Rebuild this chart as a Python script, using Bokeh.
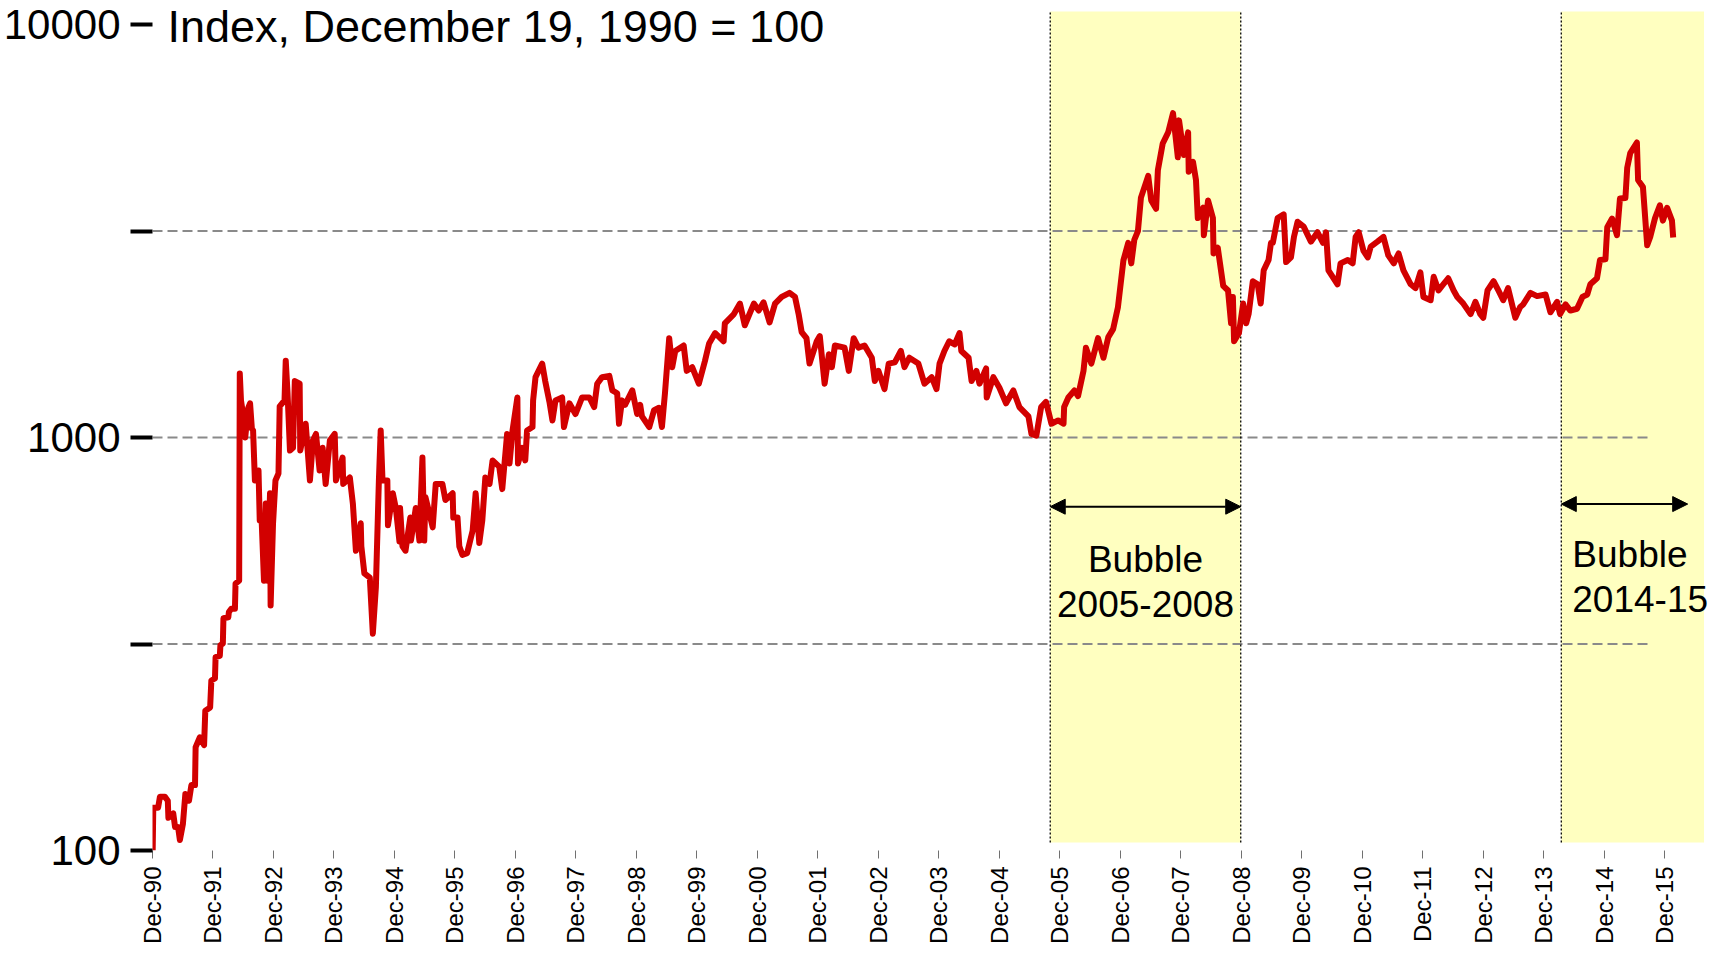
import math
from bokeh.plotting import figure
from bokeh.models import (FixedTicker, Range1d, Label, Arrow, NormalHead, ColumnDataSource,
                          PrintfTickFormatter)
from bokeh.embed import file_html
from bokeh.resources import INLINE

START = 1990.967  # December 19, 1990 (index base date)

# decimal year of each observation
years = [
    1990.97, 1990.98, 1991.06, 1991.09, 1991.17, 1991.22, 1991.23, 1991.31, 1991.34, 1991.39,
    1991.42, 1991.47, 1991.51, 1991.57, 1991.61, 1991.67, 1991.68, 1991.75, 1991.82, 1991.84,
    1991.92, 1991.94, 1992.00, 1992.01, 1992.08, 1992.09, 1992.13, 1992.14, 1992.22, 1992.23,
    1992.27, 1992.33, 1992.34, 1992.40, 1992.41, 1992.43, 1992.46, 1992.50, 1992.55, 1992.58,
    1992.61, 1992.63, 1992.66, 1992.71, 1992.72, 1992.74, 1992.77, 1992.81, 1992.84, 1992.87,
    1992.91, 1992.92, 1992.96, 1993.00, 1993.05, 1993.07, 1993.15, 1993.17, 1993.20, 1993.24,
    1993.29, 1993.32, 1993.40, 1993.41, 1993.50, 1993.57, 1993.62, 1993.67, 1993.73, 1993.78,
    1993.83, 1993.90, 1993.98, 1994.00, 1994.11, 1994.12, 1994.23, 1994.28, 1994.33, 1994.41,
    1994.42, 1994.47, 1994.56, 1994.61, 1994.66, 1994.71, 1994.74, 1994.77, 1994.85, 1994.86,
    1994.94, 1994.99, 1995.05, 1995.06, 1995.10, 1995.15, 1995.23, 1995.24, 1995.32, 1995.38,
    1995.43, 1995.46, 1995.48, 1995.60, 1995.65, 1995.76, 1995.81, 1995.93, 1995.94, 1996.01,
    1996.04, 1996.09, 1996.17, 1996.26, 1996.31, 1996.37, 1996.42, 1996.47, 1996.54, 1996.59,
    1996.70, 1996.75, 1996.83, 1996.87, 1996.92, 1997.00, 1997.01, 1997.08, 1997.13, 1997.16,
    1997.25, 1997.26, 1997.30, 1997.41, 1997.46, 1997.53, 1997.58, 1997.63, 1997.74, 1997.77,
    1997.86, 1997.96, 1998.07, 1998.19, 1998.27, 1998.32, 1998.40, 1998.52, 1998.57, 1998.65,
    1998.68, 1998.73, 1998.78, 1998.90, 1998.98, 1999.03, 1999.06, 1999.18, 1999.26, 1999.34,
    1999.39, 1999.44, 1999.51, 1999.56, 1999.61, 1999.75, 1999.80, 1999.89, 2000.00, 2000.10,
    2000.17, 2000.27, 2000.41, 2000.43, 2000.58, 2000.68, 2000.76, 2000.91, 2000.99, 2001.07,
    2001.17, 2001.26, 2001.37, 2001.50, 2001.59, 2001.65, 2001.70, 2001.78, 2001.83, 2001.95,
    2002.00, 2002.08, 2002.15, 2002.20, 2002.25, 2002.41, 2002.48, 2002.56, 2002.64, 2002.74,
    2002.86, 2002.91, 2002.97, 2003.07, 2003.14, 2003.24, 2003.34, 2003.40, 2003.48, 2003.63,
    2003.73, 2003.85, 2003.93, 2003.98, 2004.06, 2004.14, 2004.23, 2004.31, 2004.34, 2004.46,
    2004.51, 2004.59, 2004.64, 2004.75, 2004.76, 2004.87, 2004.97, 2005.08, 2005.20, 2005.30,
    2005.45, 2005.50, 2005.58, 2005.66, 2005.74, 2005.83, 2005.94, 2006.03, 2006.04, 2006.11,
    2006.21, 2006.27, 2006.36, 2006.40, 2006.49, 2006.60, 2006.69, 2006.77, 2006.85, 2006.93,
    2007.02, 2007.10, 2007.15, 2007.20, 2007.26, 2007.31, 2007.43, 2007.48, 2007.56, 2007.59,
    2007.67, 2007.76, 2007.84, 2007.92, 2007.94, 2008.02, 2008.09, 2008.10, 2008.17, 2008.22,
    2008.25, 2008.34, 2008.35, 2008.42, 2008.50, 2008.51, 2008.58, 2008.67, 2008.75, 2008.80,
    2008.83, 2008.85, 2008.93, 2009.00, 2009.05, 2009.09, 2009.16, 2009.24, 2009.29, 2009.34,
    2009.42, 2009.46, 2009.49, 2009.57, 2009.67, 2009.71, 2009.79, 2009.84, 2009.90, 2010.00,
    2010.12, 2010.23, 2010.32, 2010.37, 2010.41, 2010.56, 2010.61, 2010.73, 2010.81, 2010.86,
    2010.91, 2010.99, 2011.06, 2011.11, 2011.22, 2011.32, 2011.40, 2011.49, 2011.57, 2011.65,
    2011.77, 2011.85, 2011.93, 2011.98, 2012.10, 2012.15, 2012.23, 2012.31, 2012.39, 2012.48,
    2012.54, 2012.64, 2012.76, 2012.84, 2012.92, 2012.97, 2013.04, 2013.14, 2013.22, 2013.30,
    2013.38, 2013.50, 2013.58, 2013.63, 2013.75, 2013.86, 2014.00, 2014.08, 2014.19, 2014.24,
    2014.33, 2014.41, 2014.52, 2014.61, 2014.69, 2014.74, 2014.85, 2014.90, 2014.99, 2015.02,
    2015.10, 2015.18, 2015.23, 2015.32, 2015.35, 2015.40, 2015.51, 2015.53, 2015.61, 2015.68,
    2015.73, 2015.81, 2015.89, 2015.94, 2016.01, 2016.09, 2016.11,
]

# index level, December 19, 1990 = 100
index_values = [
    100, 127, 127, 135, 135, 132, 120, 123, 114, 114,
    106, 116, 137, 132, 144, 144, 178, 188, 180, 218,
    222, 258, 261, 294, 296, 314, 317, 365, 367, 378,
    385, 385, 443, 450, 1429, 1230, 1150, 1000, 1180, 1210,
    1050, 1040, 787, 790, 832, 630, 640, 450, 692, 450,
    733, 392, 620, 787, 818, 1190, 1230, 1535, 1280, 930,
    944, 1370, 1350, 930, 1080, 787, 985, 1020, 832, 944,
    772, 985, 1020, 787, 894, 772, 800, 692, 532, 620,
    545, 469, 458, 335, 433, 787, 1040, 787, 787, 613,
    733, 675, 560, 675, 545, 532, 640, 563, 675, 563,
    894, 563, 717, 606, 772, 772, 706, 733, 640, 640,
    545, 520, 525, 595, 733, 555, 630, 800, 772, 880,
    850, 750, 1020, 865, 1040, 1250, 865, 944, 880, 1040,
    1060, 1230, 1400, 1510, 1370, 1220, 1100, 1230, 1250, 1060,
    1210, 1140, 1250, 1250, 1185, 1350, 1400, 1410, 1300, 1280,
    1080, 1230, 1200, 1300, 1140, 1200, 1125, 1060, 1165, 1180,
    1060, 1280, 1740, 1480, 1620, 1670, 1450, 1480, 1350, 1530,
    1690, 1790, 1710, 1890, 1990, 2110, 1870, 2110, 2030, 2125,
    1900, 2110, 2190, 2240, 2190, 1990, 1800, 1740, 1510, 1710,
    1760, 1350, 1590, 1480, 1670, 1650, 1450, 1740, 1650, 1670,
    1560, 1370, 1450, 1310, 1510, 1520, 1620, 1480, 1560, 1510,
    1350, 1400, 1310, 1510, 1620, 1710, 1680, 1790, 1620, 1560,
    1370, 1450, 1350, 1470, 1250, 1400, 1320, 1210, 1300, 1185,
    1125, 1020, 1010, 1185, 1220, 1080, 1100, 1080, 1185, 1250,
    1300, 1260, 1450, 1650, 1510, 1740, 1560, 1750, 1830, 2070,
    2685, 2960, 2640, 3010, 3160, 3810, 4300, 3750, 3580, 4440,
    5150, 5480, 6100, 4770, 5860, 4830, 5480, 4400, 4650, 4200,
    3400, 3600, 3090, 3750, 3400, 2790, 2880, 2330, 2270, 1890,
    2190, 1710, 1790, 2110, 1890, 1990, 2390, 2350, 2110, 2540,
    2690, 2960, 2960, 3400, 3470, 2660, 2730, 3060, 3330, 3240,
    2980, 3140, 2960, 3140, 2540, 2350, 2640, 2690, 2640, 3060,
    3140, 2830, 2730, 2900, 2980, 3060, 2760, 2640, 2790, 2540,
    2350, 2300, 2510, 2190, 2150, 2450, 2270, 2350, 2430, 2270,
    2190, 2110, 1990, 2130, 1990, 1950, 2270, 2390, 2270, 2150,
    2300, 1950, 2070, 2100, 2240, 2200, 2220, 2010, 2130, 1990,
    2100, 2030, 2050, 2190, 2220, 2350, 2430, 2690, 2700, 3230,
    3390, 3090, 3790, 3800, 4500, 4880, 5180, 4200, 4040, 2920,
    3060, 3400, 3650, 3350, 3600, 3350, 3050,
]

tick_labels = ["Dec-90", "Dec-91", "Dec-92", "Dec-93", "Dec-94", "Dec-95", "Dec-96",
               "Dec-97", "Dec-98", "Dec-99", "Dec-00", "Dec-01", "Dec-02", "Dec-03",
               "Dec-04", "Dec-05", "Dec-06", "Dec-07", "Dec-08", "Dec-09", "Dec-10",
               "Dec-11", "Dec-12", "Dec-13", "Dec-14", "Dec-15"]
y_labeled_ticks = [100, 1000, 10000]
y_unlabeled_ticks = [316.23, 3162.3]
grid_levels = [316.23, 1000, 3162.3]
grid_end_year = 2015.69
title_text = "Index, December 19, 1990 = 100"
bubble_start = [2005.81, 2014.26]
bubble_end = [2008.96, 2016.62]
arrow_end = [2008.96, 2016.35]
arrow_level = [680, 690]
bubble_line1 = ["Bubble", "Bubble"]
bubble_line2 = ["2005-2008", "2014-15"]

FONT = "Liberation Sans"
RED = "#d20000"

t = [y - START for y in years]

W, H = 1710, 947
p = figure(width=W, height=H, y_axis_type="log", title=None,
           x_range=Range1d(0, 25.76), y_range=Range1d(100, 11433),
           output_backend="svg", toolbar_location=None,
           min_border_left=149, min_border_right=0, min_border_top=0, min_border_bottom=97)
p.outline_line_color = None
p.xgrid.visible = False
p.ygrid.visible = False
p.background_fill_color = "white"

# bubble bands
band_src = ColumnDataSource(dict(left=[b - START for b in bubble_start],
                                 right=[b - START for b in bubble_end],
                                 bottom=[104.6, 104.6], top=[10750, 10750]))
p.quad(left="left", right="right", bottom="bottom", top="top", source=band_src,
       fill_color="#ffffc0", line_color=None)

# dashed grid lines
for g in grid_levels:
    p.segment(x0=[0], x1=[grid_end_year - START], y0=[g], y1=[g],
              line_color="#8a8a8a", line_width=2, line_dash="10 5")

# dotted band edges
edges = [bubble_start[0], bubble_end[0], bubble_start[1]]
p.segment(x0=[e - START for e in edges], x1=[e - START for e in edges],
          y0=[104.6] * 3, y1=[10750] * 3, line_color="black", line_width=1.3, line_dash="2 2")

# index line
p.line(t, index_values, line_color=RED, line_width=6, line_join="round")

# axes
p.yaxis.ticker = FixedTicker(ticks=y_labeled_ticks, minor_ticks=y_unlabeled_ticks)
p.yaxis.formatter = PrintfTickFormatter(format="%d")
p.yaxis.axis_line_color = None
p.yaxis.major_label_text_font = FONT
p.yaxis.major_label_text_font_size = "42px"
p.yaxis.major_label_text_color = "black"
p.yaxis.major_label_standoff = 10
p.yaxis.major_tick_out = 22
p.yaxis.major_tick_in = 0
p.yaxis.major_tick_line_width = 4
p.yaxis.major_tick_line_color = "black"
p.yaxis.minor_tick_out = 22
p.yaxis.minor_tick_in = 0
p.yaxis.minor_tick_line_width = 4
p.yaxis.minor_tick_line_color = "black"

p.xaxis.ticker = FixedTicker(ticks=list(range(len(tick_labels))))
p.xaxis.major_label_overrides = {i: lab for i, lab in enumerate(tick_labels)}
p.xaxis.major_label_orientation = math.pi / 2
p.xaxis.major_label_text_font = FONT
p.xaxis.major_label_text_font_size = "24px"
p.xaxis.major_label_text_color = "black"
p.xaxis.major_label_standoff = 8
p.xaxis.axis_line_color = None
p.xaxis.major_tick_out = 8
p.xaxis.major_tick_in = 0
p.xaxis.major_tick_line_color = "#707070"
p.xaxis.major_tick_line_width = 1
p.xaxis.minor_tick_line_color = None

# title text beside the 10000 tick
p.add_layout(Label(x=0, y=10 ** (4 - 2 / 413), x_offset=15, text=title_text, text_align="left",
                   text_baseline="alphabetic", text_font=FONT, text_font_size="45px",
                   text_color="black"))

# arrows and bubble texts
for i in range(2):
    p.add_layout(Arrow(start=NormalHead(size=15, fill_color="black", line_color="black"),
                       end=NormalHead(size=15, fill_color="black", line_color="black"),
                       x_start=bubble_start[i] - START, x_end=arrow_end[i] - START,
                       y_start=arrow_level[i], y_end=arrow_level[i],
                       line_color="black", line_width=2))

mid0 = (bubble_start[0] + bubble_end[0]) / 2 - START
p.add_layout(Label(x=mid0, y=507, text=bubble_line1[0], text_align="center",
                   text_baseline="middle", text_font=FONT, text_font_size="37px",
                   text_color="black"))
p.add_layout(Label(x=mid0, y=396, text=bubble_line2[0], text_align="center",
                   text_baseline="middle", text_font=FONT, text_font_size="37px",
                   text_color="black"))
p.add_layout(Label(x=bubble_start[1] - START, x_offset=11, y=521, text=bubble_line1[1],
                   text_align="left", text_baseline="middle", text_font=FONT,
                   text_font_size="37px", text_color="black"))
p.add_layout(Label(x=bubble_start[1] - START, x_offset=11, y=407, text=bubble_line2[1],
                   text_align="left", text_baseline="middle", text_font=FONT,
                   text_font_size="37px", text_color="black"))

open("out.html", "w").write(file_html(p, INLINE))
